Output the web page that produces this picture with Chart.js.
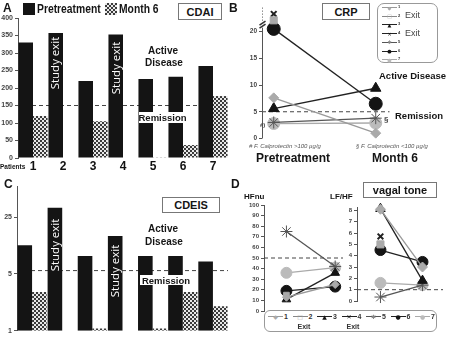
<!DOCTYPE html>
<html>
<head>
<meta charset="utf-8">
<script src="https://cdn.jsdelivr.net/npm/chart.js@4/dist/chart.umd.min.js"></script>
<style>
  body { margin: 0; background: #fff; }
  #fig { position: relative; width: 454px; height: 337px; overflow: hidden;
         font-family: "Liberation Sans", Arial, sans-serif; color: #151515; }
  #fig canvas { position: absolute; }
  .t { position: absolute; white-space: nowrap; font-weight: bold; line-height: 1; }
  .c { transform: translate(-50%, -50%); text-align: center; }
  .narrow { transform: scaleX(0.86); transform-origin: 0 0; }
  .box { position: absolute; border: 1px solid #777; background: #fff; font-weight: bold;
         display: flex; align-items: center; justify-content: center; box-sizing: border-box; }
  .exit { position: absolute; color: #fff; font-family: "Open Sans", sans-serif; font-size: 11.5px;
          line-height: 1; white-space: nowrap; transform: translate(-50%, -50%) rotate(-90deg); }
  .rem { position: absolute; background: #fff; font-weight: bold; font-size: 9.5px;
         display: flex; align-items: center; justify-content: center; }
  .lbox { position: absolute; border: 1px solid #999; background: #fff; box-sizing: border-box; }
  .chk { background: repeating-conic-gradient(#3a3a3a 0 25%, #e8e8e8 0 50%) 0 0 / 4px 4px; }
  .note { position: absolute; white-space: nowrap; font-style: italic; font-size: 6px; color: #555; line-height: 1; }
</style>
</head>
<body>
<div id="fig">
  <canvas id="cdai" width="230" height="175" style="left:0;top:0"></canvas>
  <canvas id="crp" width="165" height="146" style="left:232px;top:0"></canvas>
  <canvas id="cdeis" width="230" height="157" style="left:0;top:180px"></canvas>
  <canvas id="hfnu" width="116" height="120" style="left:234px;top:198px"></canvas>
  <canvas id="lfhf" width="113" height="108" style="left:337px;top:200px"></canvas>

  <!-- panel A -->
  <div class="t" style="left:3px;top:2px;font-size:12px">A</div>
  <div style="position:absolute;left:23px;top:3px;width:12px;height:12px;background:#141414"></div>
  <div class="t narrow" style="left:37px;top:3px;font-size:12px">Pretreatment</div>
  <div class="chk" style="position:absolute;left:105px;top:3px;width:12px;height:12px"></div>
  <div class="t narrow" style="left:119px;top:3px;font-size:12px">Month 6</div>
  <div class="box" style="left:178px;top:3px;width:44px;height:17px;font-size:11px">CDAI</div>
  <div class="t c" style="left:163px;top:51px;font-size:10px">Active</div>
  <div class="t c" style="left:164px;top:63px;font-size:10px">Disease</div>
  <div class="rem" style="left:139px;top:112px;width:47px;height:11px">Remission</div>
  <div class="exit" style="left:55px;top:63px">Study exit</div>
  <div class="exit" style="left:116px;top:68px">Study exit</div>
  <div class="t" style="left:0;top:164px;font-size:6.5px">Patients</div>

  <!-- panel B -->
  <div class="t" style="left:229px;top:2px;font-size:12px">B</div>
  <div class="box" style="left:322px;top:3px;width:48px;height:17px;font-size:11px">CRP</div>
  <div class="lbox" id="legCrp" style="left:377px;top:3px;width:61px;height:60px;border-radius:7px"></div>
  <div class="t" style="left:379px;top:71px;font-size:9.5px">Active Disease</div>
  <div class="t" style="left:395px;top:111px;font-size:9.5px">Remission</div>
  <div class="t" style="left:260px;top:122px;font-size:6px;color:#444">#)</div>
  <div class="t" style="left:384px;top:116px;font-size:8px;color:#444">§</div>
  <div class="note" style="left:249px;top:143px">#&nbsp;F. Calprotectin &gt;100 µg/g</div>
  <div class="note" style="left:356px;top:143px">§&nbsp;F. Calprotectin &lt;100 µg/g</div>
  <div class="t" style="left:256px;top:152px;font-size:12px">Pretreatment</div>
  <div class="t" style="left:372px;top:152px;font-size:12px">Month 6</div>

  <!-- panel C -->
  <div class="t" style="left:4px;top:178px;font-size:12px">C</div>
  <div class="box" style="left:162px;top:197px;width:58px;height:16px;font-size:11px">CDEIS</div>
  <div class="t c" style="left:163px;top:229px;font-size:10px">Active</div>
  <div class="t c" style="left:164px;top:242px;font-size:10px">Disease</div>
  <div class="rem" style="left:140px;top:275px;width:52px;height:10px">Remission</div>
  <div class="exit" style="left:55px;top:245px">Study exit</div>
  <div class="exit" style="left:115px;top:271px">Study exit</div>

  <!-- panel D -->
  <div class="t" style="left:231px;top:178px;font-size:12px">D</div>
  <div class="t" style="left:244px;top:193px;font-size:8px">HFnu</div>
  <div class="t" style="left:330px;top:193px;font-size:8px">LF/HF</div>
  <div class="box" style="left:363px;top:182px;width:74px;height:16px;font-size:11px">vagal tone</div>
  <div class="lbox" id="legVagal" style="left:264px;top:310px;width:173px;height:22px;border-radius:6px"></div>
</div>

<script>
// ---- data ----
const patients = ['1', '2', '3', '4', '5', '6', '7'];

const cdaiPre = [330, 357, 220, 353, 226, 232, 263];
const cdaiMonth6 = [120, null, 105, null, 2, 37, 177];
const cdaiRemission = 150;

const cdeisPre = [11.3, 32.5, 8.3, 14.6, 8.3, 8.3, 7.1];
const cdeisMonth6 = [3.0, null, 1.07, null, 1.07, 3.0, 2.0];
const cdeisTicks = [1, 5, 25];
const cdeisRemission = 5.5;

const crpPre = [7.6, 22.1, 5.6, 23.3, 3.0, 20.5, 2.8];
const crpMonth6 = [1.0, null, 9.4, null, 3.8, 6.5, 2.9];
const crpTicks = [0, 5, 10, 15, 20];
const crpRemission = 5;

const hfnuPre = [13, 15, 11, null, 75, 19, 36];
const hfnuMonth6 = [25, null, 36, null, 42, 23, 41];
const hfnuRemission = 50;

const lfhfPre = [8.1, 5.0, 8.15, 5.7, 0.35, 4.5, 1.6];
const lfhfMonth6 = [3.0, null, 1.8, null, 1.4, 3.45, 1.4];
const lfhfTicks = [0, 1, 2, 3, 4, 5, 6, 7, 8];
const lfhfRemission = 1;

// ---- per-patient marker styles ----
const markStyle = ['rectRot', 'rect', 'triangle', 'crossRot', 'star', 'circle', 'circle'];
const markFill = ['#aaa', '#aaa', '#141414', '#141414', '#888', '#141414', '#bbb'];
const markLine = ['#999', '#888', '#222', '#222', '#555', '#222', '#aaa'];
const markGlyph = ['◆', '□', '▲', '✕', '✱', '●', '●'];
const exited = [false, true, false, true, false, false, false];

Chart.defaults.font.family = '"Liberation Sans", Arial, sans-serif';

// dashed remission line, behind the bars
Chart.register({
  id: 'threshold',
  beforeDatasetsDraw(chart, args, opts) {
    if (opts.value == null) return;
    const y = chart.scales.y.getPixelForValue(opts.value);
    const { left, right } = chart.chartArea;
    const ctx = chart.ctx;
    ctx.save();
    ctx.strokeStyle = '#444';
    ctx.lineWidth = 1;
    ctx.setLineDash([4, 3]);
    ctx.beginPath();
    ctx.moveTo(left, y);
    ctx.lineTo(right, y);
    ctx.stroke();
    ctx.restore();
  }
});

// y axis with a break: solid below, dotted above
Chart.register({
  id: 'brokenAxis',
  afterDraw(chart, args, opts) {
    if (opts.breakAt == null) return;
    const ys = chart.scales.y;
    const x = chart.chartArea.left + 0.5;
    const yb = ys.getPixelForValue(opts.breakAt);
    const ctx = chart.ctx;
    ctx.save();
    ctx.strokeStyle = '#555';
    ctx.lineWidth = 1;
    ctx.beginPath();
    ctx.moveTo(x, ys.getPixelForValue(0));
    ctx.lineTo(x, yb + 3);
    ctx.stroke();
    ctx.setLineDash([1, 2]);
    ctx.beginPath();
    ctx.moveTo(x, yb - 4);
    ctx.lineTo(x, chart.chartArea.top);
    ctx.stroke();
    ctx.setLineDash([]);
    ctx.lineWidth = 1.5;
    ctx.strokeStyle = '#333';
    for (const d of [-1.5, 1.5]) {
      ctx.beginPath();
      ctx.moveTo(x - 3, yb + d + 2);
      ctx.lineTo(x + 3, yb + d - 2);
      ctx.stroke();
    }
    ctx.restore();
  }
});

function checker() {
  const c = document.createElement('canvas');
  c.width = 4; c.height = 4;
  const g = c.getContext('2d');
  g.fillStyle = '#e8e8e8'; g.fillRect(0, 0, 4, 4);
  g.fillStyle = '#3a3a3a'; g.fillRect(0, 0, 2, 2); g.fillRect(2, 2, 2, 2);
  return g.createPattern(c, 'repeat');
}

const tickFont = { size: 7, weight: 'bold' };
const axisGrid = { drawOnChartArea: false, tickLength: 3, color: '#555' };

function barDatasets(pre, month6) {
  return [
    { label: 'Pretreatment', data: pre, backgroundColor: '#141414',
      categoryPercentage: 0.97, barPercentage: 1 },
    { label: 'Month 6', data: month6, backgroundColor: checker(),
      categoryPercentage: 0.97, barPercentage: 1 }
  ];
}

// CDAI bars
new Chart(document.getElementById('cdai'), {
  type: 'bar',
  data: { labels: patients, datasets: barDatasets(cdaiPre, cdaiMonth6) },
  options: {
    responsive: false, animation: false,
    layout: { padding: { top: 18, right: 2, bottom: 0, left: 0 } },
    plugins: { legend: { display: false }, tooltip: { enabled: false },
               threshold: { value: cdaiRemission } },
    scales: {
      x: { grid: { display: false, drawTicks: false }, border: { display: false },
           ticks: { font: { size: 12, weight: 'bold' }, color: '#111', padding: 1 },
           afterFit: s => { s.height = 17; } },
      y: { min: 0, max: 400, ticks: { stepSize: 50, font: tickFont, color: '#444', padding: 2 },
           grid: axisGrid, border: { color: '#555' },
           afterFit: s => { s.width = 18; } }
    }
  }
});

// CDEIS bars, log axis
new Chart(document.getElementById('cdeis'), {
  type: 'bar',
  data: { labels: patients, datasets: barDatasets(cdeisPre, cdeisMonth6) },
  options: {
    responsive: false, animation: false,
    layout: { padding: { top: 5, right: 2, bottom: 4, left: 0 } },
    plugins: { legend: { display: false }, tooltip: { enabled: false },
               threshold: { value: cdeisRemission } },
    scales: {
      x: { display: false },
      y: { type: 'logarithmic', min: 1, max: 60,
           afterBuildTicks: s => { s.ticks = cdeisTicks.map(v => ({ value: v })); },
           ticks: { font: tickFont, color: '#444', padding: 2, callback: v => String(v) },
           grid: axisGrid, border: { color: '#555' },
           afterFit: s => { s.width = 17; } }
    }
  }
});

function pairDatasets(pre, month6, radii) {
  return patients.map((p, i) => ({
    label: p,
    data: [{ x: 0, y: pre[i] }, { x: 1, y: month6[i] }].filter(d => d.y != null),
    borderColor: markLine[i],
    borderWidth: 1.3,
    pointStyle: markStyle[i],
    pointRadius: radii[i],
    pointBackgroundColor: markFill[i],
    pointBorderColor: markStyle[i] === 'star' || markStyle[i] === 'crossRot' ? markLine[i] : markFill[i],
    pointBorderWidth: markStyle[i] === 'crossRot' ? 2 : 1,
    clip: false
  })).filter(ds => ds.data.length);
}

function pairOptions(xmin, xmax, y, pad, axisWidth, plugins) {
  return {
    responsive: false, animation: false,
    layout: { padding: pad },
    plugins: Object.assign({ legend: { display: false }, tooltip: { enabled: false } }, plugins),
    scales: {
      x: { type: 'linear', min: xmin, max: xmax, display: false },
      y: Object.assign({
        ticks: { font: { size: 6.5, weight: 'bold' }, color: '#444', padding: 2 },
        grid: axisGrid, border: { color: '#555' },
        afterFit: s => { s.width = axisWidth; }
      }, y)
    }
  };
}

// CRP
new Chart(document.getElementById('crp'), {
  type: 'line',
  data: { datasets: pairDatasets(crpPre, crpMonth6, [5, 5, 6, 4, 6, 6.5, 6]) },
  options: pairOptions(-0.115, 1.135,
    { min: 0, max: 24.5, border: { display: false },
      afterBuildTicks: s => { s.ticks = crpTicks.map(v => ({ value: v })); } },
    { top: 4, right: 5, bottom: 4, left: 0 }, 30,
    { threshold: { value: crpRemission }, brokenAxis: { breakAt: 21.3 } })
});

// HFnu
new Chart(document.getElementById('hfnu'), {
  type: 'line',
  data: { datasets: pairDatasets(hfnuPre, hfnuMonth6, [4, 4, 5, 4, 6, 5.5, 5.5]) },
  options: pairOptions(-0.46, 1.16,
    { min: 0, max: 100, ticks: { stepSize: 10, font: { size: 6, weight: 'bold' }, color: '#444', padding: 2 } },
    { top: 6, right: 5, bottom: 4, left: 0 }, 30,
    { threshold: { value: hfnuRemission } })
});

// LF/HF
new Chart(document.getElementById('lfhf'), {
  type: 'line',
  data: { datasets: pairDatasets(lfhfPre, lfhfMonth6, [5, 5, 5.5, 4, 6, 5.5, 5.5]) },
  options: pairOptions(-0.558, 1.488,
    { min: 0, max: 8.3, ticks: { font: { size: 6, weight: 'bold' }, color: '#444', padding: 2 },
      afterBuildTicks: s => { s.ticks = lfhfTicks.map(v => ({ value: v })); } },
    { top: 4, right: 5, bottom: 3, left: 0 }, 20,
    { threshold: { value: lfhfRemission } })
});

// ---- legends ----
function legendEntry(parent, x, y, i, numSize, glyphSize) {
  const line = document.createElement('div');
  line.style.cssText = `position:absolute;left:${x}px;top:${y}px;width:15px;border-top:1px solid ${markLine[i]}`;
  parent.appendChild(line);
  const g = document.createElement('div');
  g.className = 't c';
  g.textContent = markGlyph[i];
  g.style.cssText += `left:${x + 7.5}px;top:${y + 0.5}px;font-size:${glyphSize}px;color:${markFill[i]};font-family:"DejaVu Sans"`;
  parent.appendChild(g);
  const n = document.createElement('div');
  n.className = 't';
  n.textContent = patients[i];
  n.style.cssText += `left:${x + 16}px;top:${y - numSize / 2}px;font-size:${numSize}px;color:#333`;
  parent.appendChild(n);
}

const legCrp = document.getElementById('legCrp');
patients.forEach((p, i) => {
  const y = 3 + i * 8.7;
  legendEntry(legCrp, 4, y, i, 4, 5);
  if (exited[i]) {
    const e = document.createElement('div');
    e.className = 't';
    e.textContent = 'Exit';
    e.style.cssText += 'left:27px;top:' + (y - 4.5) + 'px;font-size:9px;font-weight:normal;color:#444';
    legCrp.appendChild(e);
  }
});

const legVagal = document.getElementById('legVagal');
patients.forEach((p, i) => {
  const x = 3 + i * 24.5;
  legendEntry(legVagal, x, 5, i, 7, 6);
  if (exited[i]) {
    const e = document.createElement('div');
    e.className = 't';
    e.textContent = 'Exit';
    e.style.cssText += 'left:' + (x + 5) + 'px;top:12px;font-size:7px;color:#333';
    legVagal.appendChild(e);
  }
});
</script>
</body>
</html>
